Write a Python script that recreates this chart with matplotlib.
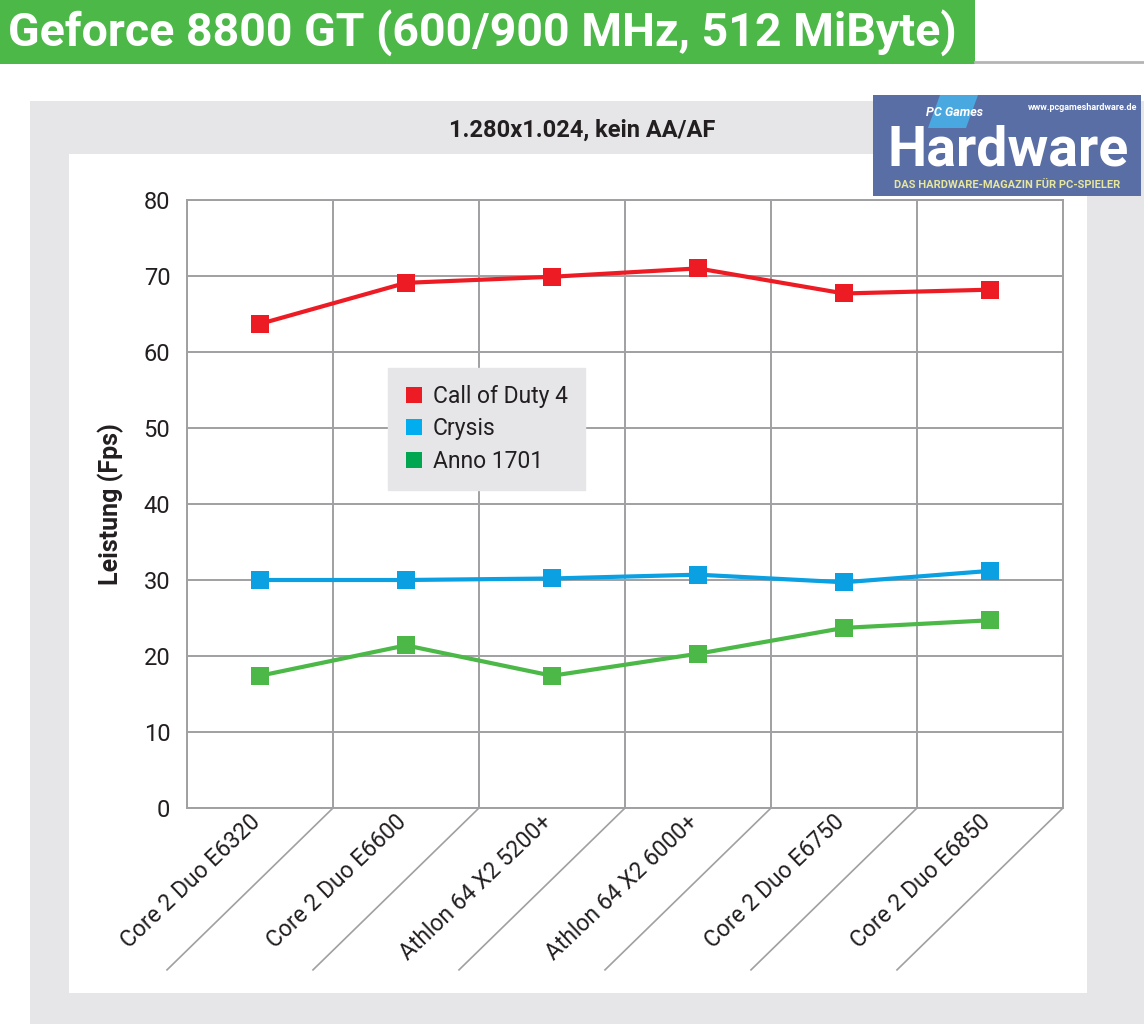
import matplotlib
matplotlib.use("Agg")
import matplotlib.pyplot as plt
from matplotlib.patches import Rectangle, Polygon
from matplotlib.lines import Line2D

# Daten
cpus = ['Core 2 Duo E6320', 'Core 2 Duo E6600', 'Athlon 64 X2 5200+',
        'Athlon 64 X2 6000+', 'Core 2 Duo E6750', 'Core 2 Duo E6850']
cod4 = [63.7, 69.1, 69.9, 71.0, 67.7, 68.2]
crysis = [30.0, 30.0, 30.2, 30.7, 29.7, 31.2]
anno = [17.4, 21.4, 17.4, 20.3, 23.7, 24.7]
serien = ['Call of Duty 4', 'Crysis', 'Anno 1701']
yticks = [0, 10, 20, 30, 40, 50, 60, 70, 80]

titel = 'Geforce 8800 GT (600/900 MHz, 512 MiByte)'
untertitel = '1.280x1.024, kein AA/AF'
ylabel = 'Leistung (Fps)'

farben_linie = ['#ed1c24', '#0aa0e2', '#4cb848']
farben_legende = ['#ed1c24', '#00aeef', '#00a650']

plt.rcParams['font.family'] = ['Roboto', 'DejaVu Sans']

W, H = 1144, 1024
fig = plt.figure(figsize=(W / 100, H / 100), dpi=100)
fig.patch.set_facecolor('white')


def px(x, y, w, h):
    # Pixelbox (oben links) -> Figurkoordinaten
    return (x / W, 1 - (y + h) / H, w / W, h / H)


# Hintergrundflaechen
bg = fig.add_axes([0, 0, 1, 1])
bg.set_xlim(0, W)
bg.set_ylim(H, 0)
bg.axis('off')
bg.add_patch(Rectangle((30, 101), W - 30, H - 101, color='#e6e6e8', lw=0))
bg.add_patch(Rectangle((69, 154), 1087 - 69, 993 - 154, color='white', lw=0))
bg.add_patch(Rectangle((0, 0), 975, 64, color='#4cb848', lw=0))
bg.plot([975, W], [62, 62], color='#b4b4b4', lw=2)
bg.text(8, 33, titel, color='white', fontsize=33.5, fontweight='bold',
        va='center', ha='left')
bg.text(582, 130, untertitel, color='#231f20', fontsize=17,
        fontweight='bold', va='center', ha='center')

# Logo
bg.add_patch(Rectangle((873, 95), 268, 101, color='#5a6ea6', lw=0))
bg.add_patch(Polygon([[940, 95], [978, 95], [966, 128], [928, 128]],
                     closed=True, color='#4aa8e0', lw=0))
bg.text(926, 112, 'PC Games', color='white', fontsize=9, fontweight='bold',
        fontstyle='italic', va='center', ha='left')
bg.text(1137, 108, 'www.pcgameshardware.de', color='white', fontsize=6.5,
        fontweight='bold', va='center', ha='right')
bg.text(1008, 150, 'Hardware', color='white', fontsize=40, fontweight='bold',
        va='center', ha='center')
bg.text(1007, 185, 'DAS HARDWARE-MAGAZIN FÜR PC-SPIELER', color='#e6e69c',
        fontsize=8, fontweight='bold', va='center', ha='center')

# Diagramm
ax = fig.add_axes(px(187, 200, 1063 - 187, 608))
x = [i + 0.5 for i in range(len(cpus))]
for werte, name, c in zip([cod4, crysis, anno], serien, farben_linie):
    ax.plot(x, werte, color=c, lw=3, marker='s', markersize=13,
            markeredgewidth=0, label=name, zorder=3)

ax.set_xlim(0, len(cpus))
ax.set_ylim(0, 80)
ax.set_yticks(yticks)
ax.set_xticks(range(len(cpus) + 1))
ax.set_xticklabels([])
ax.grid(True, color='#a0a0a2', lw=1.4)
ax.set_axisbelow(True)
for s in ax.spines.values():
    s.set_color('#a0a0a2')
    s.set_linewidth(1.4)
ax.tick_params(length=0, labelsize=17, colors='#231f20', pad=12)
ax.set_ylabel(ylabel, fontsize=18, fontweight='bold', color='#231f20',
              labelpad=14)

# Schraege Trennlinien und Beschriftungen
for i in range(1, len(cpus) + 1):
    ax.plot([i, i - 1.137], [0, -21.3], color='#a0a0a2', lw=1.2,
            clip_on=False)
for xi, name in zip(x, cpus):
    ax.text(xi - 0.02, -1.4, name, rotation=43.5, rotation_mode='anchor',
            ha='right', va='center', fontsize=16.5, color='#231f20')

# Legende
handles = [Line2D([], [], marker='s', linestyle='none', markersize=12,
                  markerfacecolor=c, markeredgewidth=0)
           for c in farben_legende]
leg = ax.legend(handles, serien, loc='upper left',
                bbox_to_anchor=((388 - 187) / 876, (808 - 368) / 608),
                borderaxespad=0, frameon=True, fancybox=False,
                facecolor='#e6e6e8', edgecolor='#e6e6e8', framealpha=1,
                fontsize=16.5, handlelength=0.8, handletextpad=0.4,
                labelspacing=0.4, borderpad=0.75)
for t in leg.get_texts():
    t.set_color('#231f20')

fig.savefig('out.png', dpi=100)
